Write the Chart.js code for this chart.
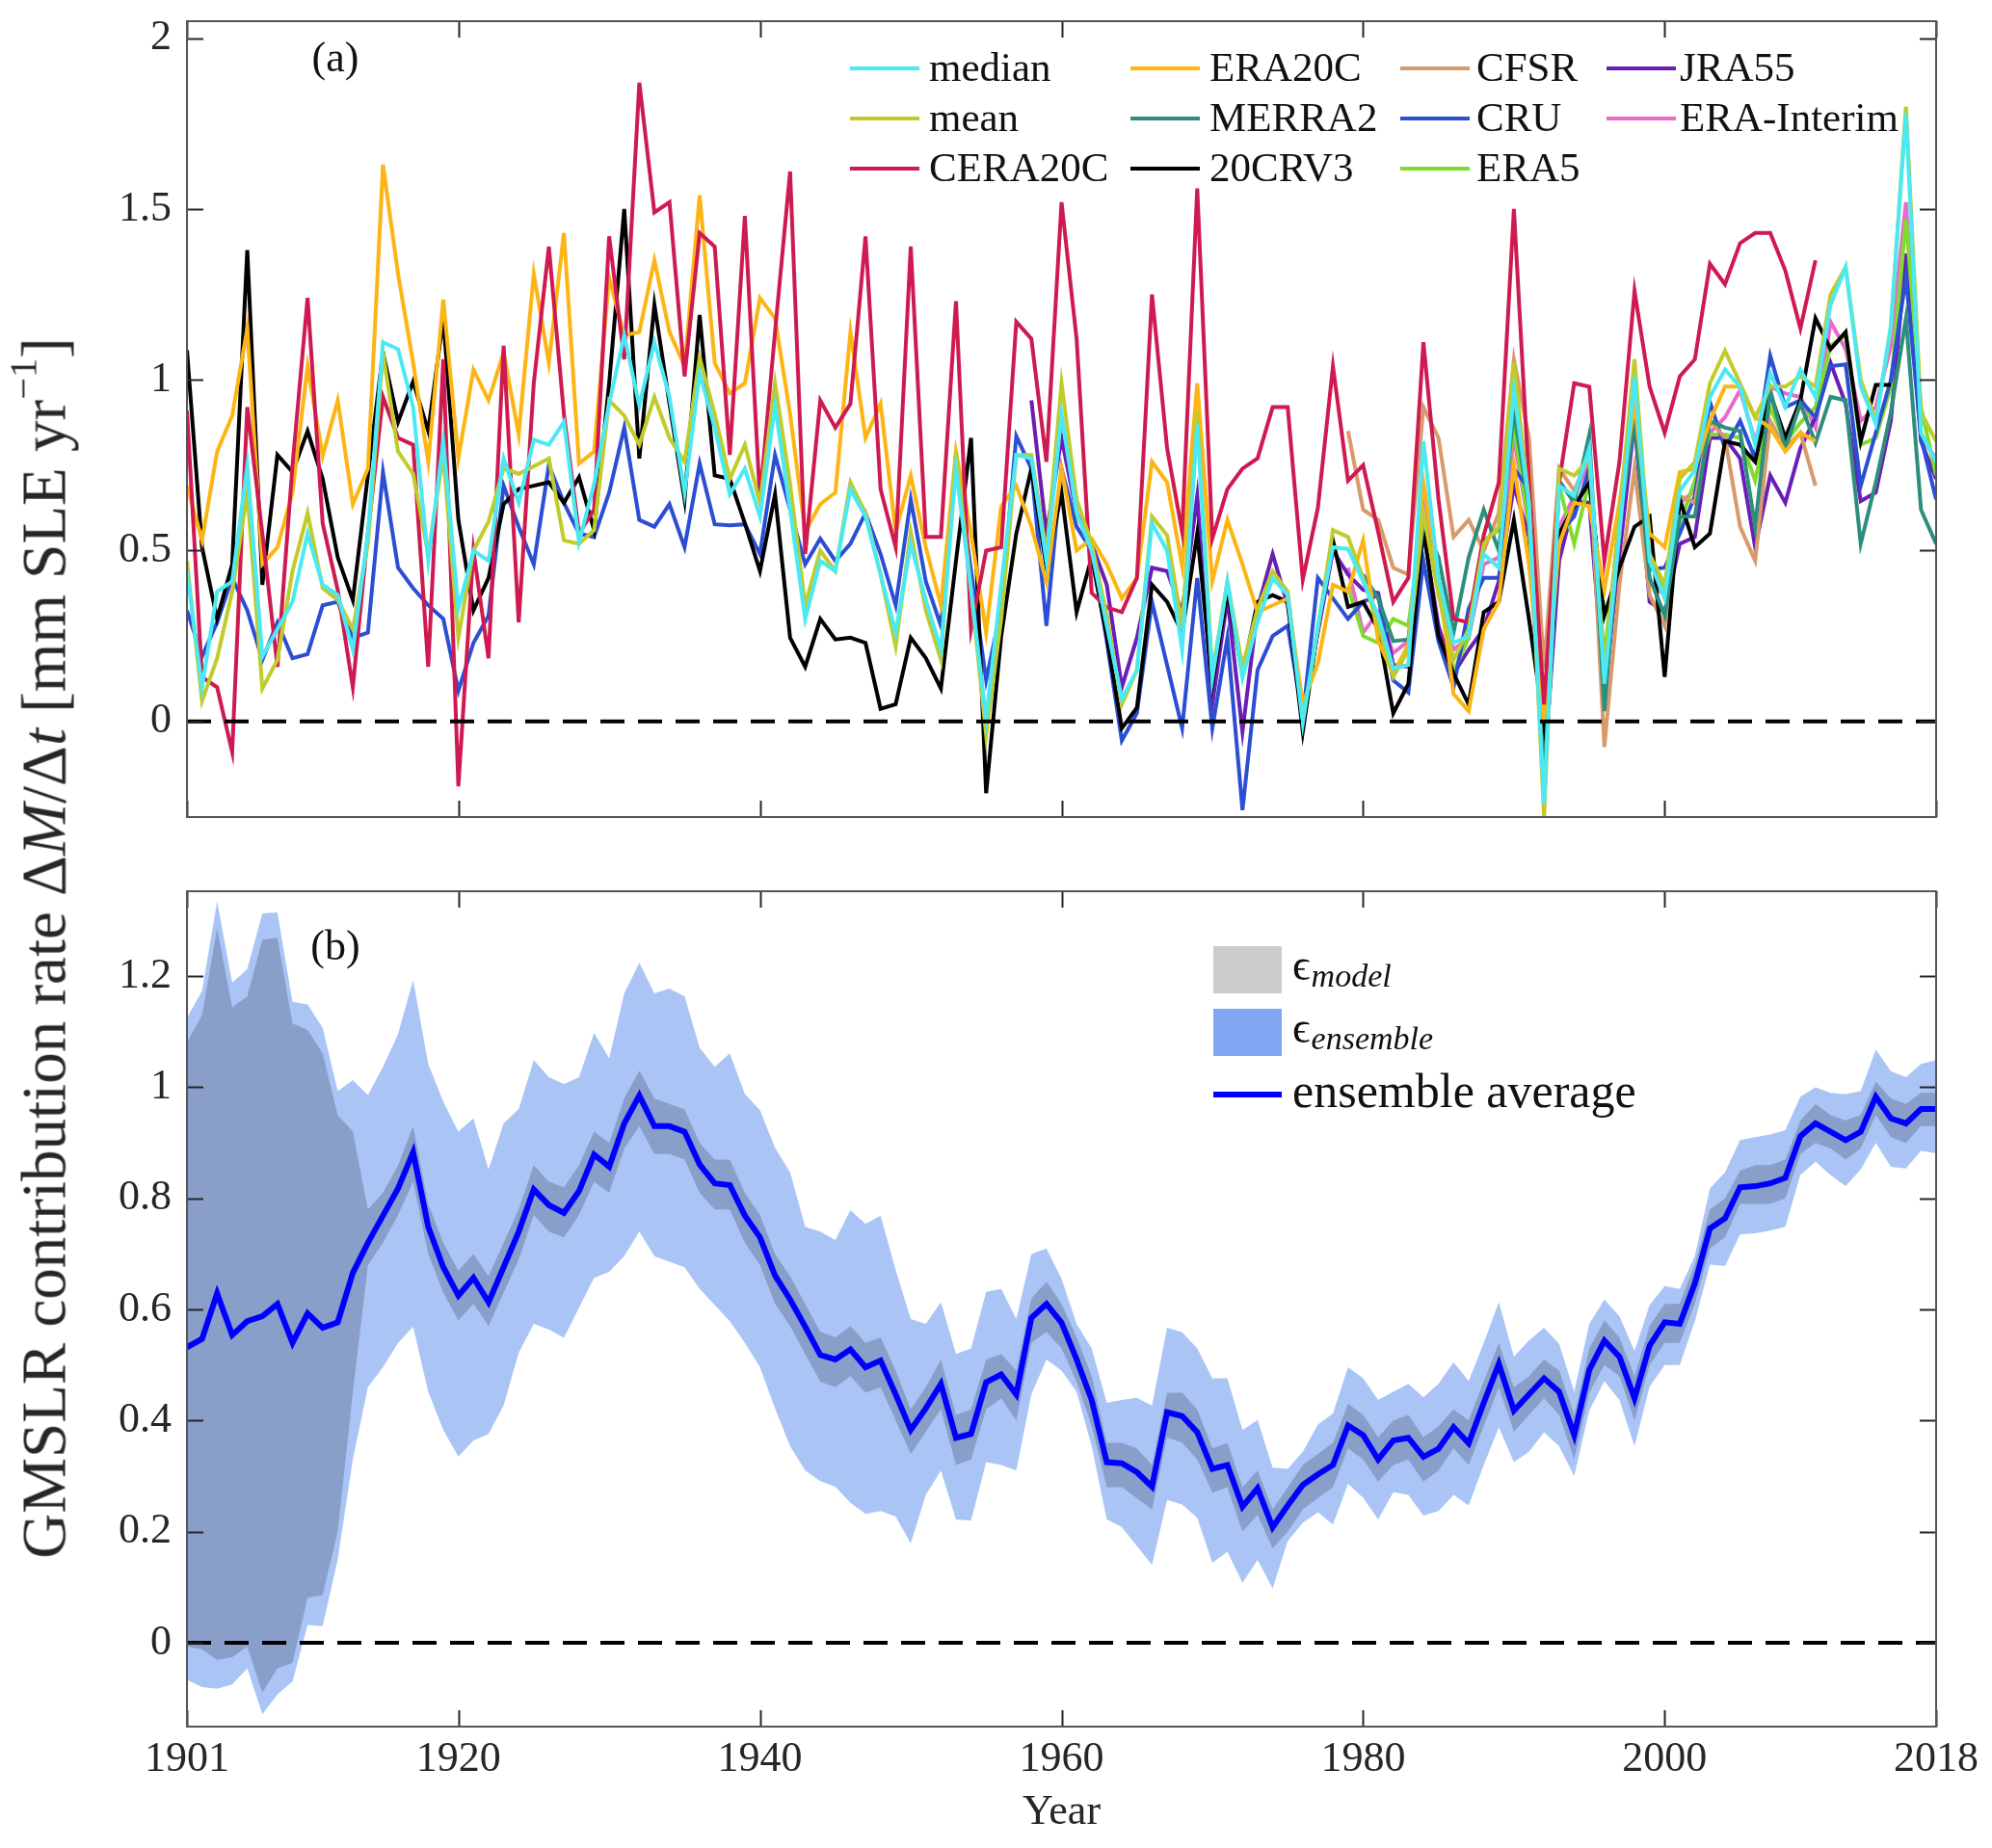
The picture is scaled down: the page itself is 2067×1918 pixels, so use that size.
<!DOCTYPE html>
<html>
<head>
<meta charset="utf-8">
<script src="https://cdn.jsdelivr.net/npm/chart.js@4.4.1/dist/chart.umd.min.js"></script>
<style>
  html, body { margin: 0; padding: 0; background: #fff; }
  body { width: 2067px; height: 1918px; position: relative; overflow: hidden; }
  canvas { position: absolute; left: 0; }
  #chartA { top: 0; }
  #chartB { top: 880px; }
  #ytitle {
    position: absolute; left: 46px; top: 984px;
    transform: translate(-50%, -50%) rotate(-90deg);
    white-space: nowrap; color: #262626;
    font-family: 'Liberation Serif', 'DejaVu Serif', serif; font-size: 65px;
  }
  #ytitle sup { font-size: 0.62em; vertical-align: 0.75em; line-height: 0; }
</style>
</head>
<body>
<canvas id="chartA" width="2067" height="880"></canvas>
<canvas id="chartB" width="2067" height="1038"></canvas>
<div id="ytitle">GMSLR contribution rate &Delta;<i>M</i>/&Delta;<i>t</i> [mm SLE yr<sup>&minus;1</sup>]</div>
<script>
const FONT = "'Liberation Serif', 'DejaVu Serif', serif";

// x axis (first plotted year sits on the left edge, labelled 1901)
const X_MIN = 1902;
const X_MAX = 2018;
const xTickValues = [1902, 1920, 1940, 1960, 1980, 2000, 2018];
const xTickLabels = ['1901', '1920', '1940', '1960', '1980', '2000', '2018'];

const yTicksA = [0, 0.5, 1, 1.5, 2];
const yTickLabelsA = ['0', '0.5', '1', '1.5', '2'];
const yTicksB = [0, 0.2, 0.4, 0.6, 0.8, 1, 1.2];
const yTickLabelsB = ['0', '0.2', '0.4', '0.6', '0.8', '1', '1.2'];

// ---- panel (a): annual rates per product ----
const median = [0.44, 0.10, 0.38, 0.41, 0.75, 0.19, 0.27, 0.35,
  0.55, 0.40, 0.37, 0.21, 0.55, 1.11, 1.09, 0.92, 0.47, 0.82,
  0.33, 0.50, 0.47, 0.77, 0.64, 0.825, 0.81, 0.877, 0.525, 0.695,
  0.93, 1.13, 0.925, 1.11, 0.95, 0.67, 1.02, 0.86, 0.665, 0.74,
  0.60, 0.925, 0.62, 0.30, 0.47, 0.44, 0.68, 0.60, 0.43, 0.26,
  0.52, 0.355, 0.21, 0.74, 0.385, 0.007, 0.40, 0.78, 0.77, 0.47,
  0.90, 0.61, 0.50, 0.28, 0.066, 0.15, 0.58, 0.50, 0.21, 0.87,
  0.127, 0.41, 0.127, 0.29, 0.42, 0.37, -0.005, 0.28, 0.51, 0.505,
  0.41, 0.31, 0.155, 0.165, 0.82, 0.42, 0.23, 0.25, 0.49, 0.45,
  0.97, 0.64, -0.24, 0.69, 0.66, 0.80, 0.11, 0.55, 1.01, 0.47,
  0.36, 0.675, 0.735, 0.95, 1.03, 0.98, 0.81, 1.02, 0.92, 1.03,
  0.95, 1.22, 1.33, 0.98, 0.87, 1.16, 1.78, 0.845, 0.76];

const mean = [0.47, 0.06, 0.185, 0.38, 0.67, 0.096, 0.18, 0.44,
  0.61, 0.39, 0.355, 0.27, 0.52, 1.08, 0.79, 0.725, 0.49, 0.78,
  0.245, 0.50, 0.585, 0.74, 0.725, 0.747, 0.77, 0.53, 0.52, 0.56,
  0.94, 0.895, 0.81, 0.95, 0.83, 0.76, 1.065, 0.90, 0.71, 0.81,
  0.64, 0.99, 0.695, 0.34, 0.50, 0.44, 0.70, 0.61, 0.43, 0.22,
  0.555, 0.325, 0.18, 0.79, 0.385, -0.04, 0.30, 0.78, 0.78, 0.49,
  0.99, 0.65, 0.52, 0.31, 0.05, 0.15, 0.60, 0.545, 0.28, 0.91,
  0.14, 0.41, 0.16, 0.33, 0.44, 0.38, 0.005, 0.27, 0.56, 0.54,
  0.42, 0.28, 0.13, 0.21, 0.61, 0.37, 0.18, 0.27, 0.52, 0.57,
  1.05, 0.64, -0.28, 0.74, 0.72, 0.77, 0.14, 0.61, 1.06, 0.49,
  0.40, 0.71, 0.76, 0.99, 1.085, 0.99, 0.89, 0.98, 0.98, 1.01,
  0.98, 1.25, 1.33, 1.0, 0.88, 1.15, 1.80, 0.905, 0.82];

const cera20c = [0.91, 0.13, 0.10, -0.09, 0.92, 0.55, 0.16, 0.75,
  1.24, 0.58, 0.385, 0.10, 0.55, 0.95, 0.83, 0.81, 0.16, 1.06,
  -0.19, 0.50, 0.185, 1.10, 0.29, 0.99, 1.39, 0.90, 0.55, 0.62,
  1.42, 1.06, 1.87, 1.49, 1.52, 1.01, 1.43, 1.39, 0.78, 1.48,
  0.65, 1.14, 1.61, 0.49, 0.94, 0.86, 0.93, 1.42, 0.68, 0.51,
  1.39, 0.54, 0.54, 1.23, 0.27, 0.50, 0.51, 1.17, 1.12, 0.76,
  1.52, 1.12, 0.376, 0.334, 0.32, 0.42, 1.25, 0.80, 0.555, 1.56,
  0.535, 0.68, 0.74, 0.77, 0.92, 0.92, 0.415, 0.625, 1.04, 0.705,
  0.75, 0.555, 0.35, 0.42, 1.11, 0.65, 0.30, 0.29, 0.545, 0.70,
  1.50, 0.70, 0.05, 0.70, 0.99, 0.98, 0.47, 0.76, 1.26, 0.98,
  0.845, 1.01, 1.06, 1.34, 1.28, 1.40, 1.43, 1.43, 1.32, 1.15,
  1.35];

const era20c = [0.69, 0.53, 0.79, 0.895, 1.15, 0.46, 0.51, 0.67,
  1.04, 0.777, 0.94, 0.636, 0.74, 1.63, 1.31, 1.05, 0.76, 1.235,
  0.77, 1.03, 0.94, 1.08, 0.84, 1.31, 1.05, 1.43, 0.755, 0.79,
  1.30, 1.13, 1.14, 1.35, 1.14, 1.04, 1.54, 1.05, 0.96, 0.99,
  1.24, 1.18, 0.90, 0.555, 0.636, 0.67, 1.14, 0.83, 0.93, 0.555,
  0.72, 0.51, 0.34, 0.79, 0.55, 0.26, 0.63, 0.69, 0.57, 0.41,
  0.74, 0.50, 0.535, 0.46, 0.36, 0.42, 0.76, 0.70, 0.455, 0.99,
  0.41, 0.59, 0.46, 0.32, 0.34, 0.36, 0.05, 0.17, 0.40, 0.38,
  0.53, 0.235, 0.14, 0.225, 0.70, 0.42, 0.08, 0.03, 0.27, 0.35,
  0.75, 0.46, 0.0, 0.52, 0.64, 0.63, 0.385, 0.64, 0.93, 0.55,
  0.51, 0.73, 0.74, 0.88, 0.98, 0.98, 0.89, 0.86, 0.79, 0.845,
  0.82];

const merra2 = [0.43, 0.36, 0.235, 0.24, 0.58, 0.48, 0.26, 0.48, 0.62, 0.50,
  0.905, 0.63, -0.2, 0.705, 0.64, 0.84, 0.03, 0.58, 0.88, 0.42,
  0.31, 0.60, 0.60, 0.88, 0.86, 0.85, 0.57, 0.97, 0.80, 0.93,
  0.815, 0.95, 0.94, 0.52, 0.70, 0.905, 1.18, 0.62, 0.52];

const cr20v3 = [1.087, 0.51, 0.30, 0.46, 1.38, 0.40, 0.78, 0.73,
  0.85, 0.71, 0.48, 0.355, 0.72, 1.08, 0.877, 0.995, 0.85, 1.18,
  0.59, 0.325, 0.42, 0.636, 0.68, 0.69, 0.70, 0.64, 0.715, 0.56,
  0.99, 1.50, 0.77, 1.22, 0.93, 0.65, 1.19, 0.72, 0.71, 0.58,
  0.44, 0.665, 0.245, 0.16, 0.30, 0.24, 0.245, 0.23, 0.037, 0.05,
  0.245, 0.185, 0.096, 0.47, 0.83, -0.21, 0.25, 0.55, 0.74, 0.45,
  0.67, 0.32, 0.48, 0.25, -0.02, 0.04, 0.40, 0.35, 0.26, 0.55,
  0.11, 0.38, 0.14, 0.35, 0.37, 0.35, -0.03, 0.27, 0.53, 0.335,
  0.35, 0.27, 0.024, 0.11, 0.57, 0.25, 0.14, 0.05, 0.32, 0.35,
  0.59, 0.30, -0.015, 0.55, 0.63, 0.70, 0.31, 0.45, 0.57, 0.60,
  0.13, 0.65, 0.51, 0.55, 0.82, 0.81, 0.76, 0.96, 0.83, 0.94,
  1.18, 1.09, 1.14, 0.82, 0.985, 0.985];

const cfsr = [0.85, 0.62, 0.59, 0.45, 0.43, 0.92, 0.83, 0.54, 0.59, 0.50, 0.61,
  1.06, 0.83, 0.155, 0.74, 0.675, 0.78, -0.075, 0.40, 0.74, 0.37,
  0.28, 0.66, 0.64, 0.88, 0.83, 0.57, 0.47, 0.88, 0.80, 0.845,
  0.69];

const cru = [0.325, 0.19, 0.29, 0.42, 0.325, 0.18, 0.29, 0.185,
  0.197, 0.34, 0.35, 0.245, 0.26, 0.73, 0.45, 0.39, 0.34, 0.30,
  0.09, 0.23, 0.31, 0.69, 0.57, 0.46, 0.75, 0.64, 0.55, 0.54,
  0.67, 0.86, 0.59, 0.57, 0.636, 0.51, 0.755, 0.577, 0.574, 0.577,
  0.49, 0.78, 0.62, 0.46, 0.535, 0.47, 0.52, 0.61, 0.49, 0.34,
  0.65, 0.41, 0.28, 0.77, 0.44, 0.12, 0.33, 0.835, 0.74, 0.28,
  0.74, 0.57, 0.50, 0.235, -0.056, 0.024, 0.35, 0.165, -0.02, 0.42,
  -0.02, 0.245, -0.26, 0.15, 0.25, 0.28, 0.01, 0.42, 0.36, 0.30,
  0.35, 0.37, 0.12, 0.085, 0.47, 0.235, 0.10, 0.33, 0.42, 0.42,
  0.74, 0.68, -0.18, 0.55, 0.60, 0.74, 0.12, 0.60, 0.88, 0.445,
  0.45, 0.55, 0.66, 0.935, 0.80, 0.88, 0.77, 1.07, 0.92, 0.94,
  0.89, 1.04, 1.045, 0.69, 0.845, 1.0, 1.30, 0.83, 0.65];

const era5 = [0.395, 0.25, 0.23, 0.30, 0.28, 0.61, 0.38, 0.146, 0.245, 0.53, 0.56,
  0.86, 0.58, -0.16, 0.69, 0.52, 0.705, 0.19, 0.58, 0.97, 0.47,
  0.39, 0.58, 0.705, 0.84, 0.84, 0.83, 0.705, 0.92, 0.815, 0.875,
  0.92, 1.10, 1.13, 0.81, 0.83, 0.98, 1.47, 0.92, 0.72];

const jra55 = [0.94, 0.55,
  0.83, 0.61, 0.52, 0.40, 0.10, 0.245, 0.45, 0.44, 0.32, 0.66,
  0.05, 0.36, -0.03, 0.33, 0.49, 0.34, 0.03, 0.26, 0.50, 0.43,
  0.385, 0.376, 0.165, 0.16, 0.555, 0.28, 0.14, 0.21, 0.27, 0.41,
  0.69, 0.54, -0.15, 0.47, 0.645, 0.64, 0.08, 0.49, 0.88, 0.35,
  0.32, 0.52, 0.54, 0.83, 0.83, 0.77, 0.51, 0.72, 0.64, 0.80,
  0.89, 1.05, 0.93, 0.645, 0.67, 0.88, 1.37, 0.82, 0.71];

const eraInterim = [0.45, 0.26, 0.32, 0.20, 0.235, 0.68, 0.395, 0.21, 0.245, 0.46, 0.48,
  0.83, 0.57, -0.18, 0.57, 0.66, 0.76, 0.12, 0.48, 0.93, 0.41,
  0.37, 0.64, 0.675, 0.845, 0.89, 0.97, 0.82, 0.98, 0.96, 0.95,
  0.86, 1.17, 1.09, 0.88, 0.92, 1.10, 1.52, 0.83, 0.77];

// ---- panel (b): ensemble average and uncertainty envelopes ----
const ensAvg = [0.532, 0.547, 0.629, 0.554, 0.579, 0.588, 0.61, 0.54,
  0.593, 0.567, 0.577, 0.666, 0.72, 0.769, 0.818, 0.883, 0.749, 0.676,
  0.625, 0.657, 0.613, 0.676, 0.74, 0.816, 0.788, 0.774, 0.813, 0.879,
  0.857, 0.935, 0.985, 0.93, 0.93, 0.92, 0.861, 0.827, 0.824, 0.769,
  0.73, 0.661, 0.618, 0.569, 0.518, 0.51, 0.528, 0.496, 0.508, 0.447,
  0.383, 0.422, 0.466, 0.369, 0.376, 0.469, 0.483, 0.447, 0.585, 0.61,
  0.576, 0.51, 0.437, 0.325, 0.323, 0.307, 0.281, 0.415, 0.408, 0.379,
  0.313, 0.32, 0.245, 0.278, 0.208, 0.247, 0.284, 0.303, 0.32, 0.391,
  0.374, 0.33, 0.364, 0.369, 0.335, 0.349, 0.388, 0.359, 0.432, 0.502,
  0.418, 0.447, 0.476, 0.452, 0.374, 0.491, 0.544, 0.515, 0.44, 0.535,
  0.577, 0.574, 0.647, 0.746, 0.764, 0.82, 0.822, 0.827, 0.837, 0.912,
  0.935, 0.92, 0.905, 0.92, 0.983, 0.944, 0.935, 0.961, 0.961];

const ensUpper = [1.125, 1.174, 1.335, 1.188, 1.213, 1.313, 1.315, 1.154,
  1.149, 1.107, 0.993, 1.013, 0.986, 1.037, 1.096, 1.193, 1.042, 0.974,
  0.92, 0.944, 0.852, 0.935, 0.961, 1.049, 1.018, 1.006, 1.018, 1.098,
  1.052, 1.169, 1.224, 1.169, 1.178, 1.164, 1.071, 1.037, 1.061, 0.988,
  0.959, 0.891, 0.847, 0.749, 0.74, 0.725, 0.779, 0.754, 0.769, 0.671,
  0.583, 0.574, 0.613, 0.52, 0.53, 0.632, 0.637, 0.583, 0.70, 0.71,
  0.655, 0.574, 0.53, 0.432, 0.437, 0.441, 0.427, 0.567, 0.559, 0.53,
  0.476, 0.476, 0.383, 0.401, 0.315, 0.313, 0.344, 0.393, 0.413, 0.496,
  0.476, 0.437, 0.452, 0.466, 0.442, 0.466, 0.505, 0.471, 0.54, 0.613,
  0.515, 0.544, 0.567, 0.538, 0.452, 0.574, 0.618, 0.588, 0.525, 0.608,
  0.642, 0.637, 0.696, 0.818, 0.847, 0.905, 0.91, 0.915, 0.923, 0.983,
  1.0, 0.99, 0.988, 0.993, 1.068, 1.029, 1.018, 1.042, 1.049];

const ensLower = [-0.067, -0.08, -0.083, -0.075, -0.046, -0.129, -0.093, -0.07,
  0.032, 0.03, 0.15, 0.33, 0.46, 0.496, 0.54, 0.569, 0.452, 0.383,
  0.335, 0.364, 0.376, 0.427, 0.522, 0.574, 0.564, 0.549, 0.603, 0.657,
  0.668, 0.696, 0.74, 0.696, 0.686, 0.676, 0.637, 0.608, 0.579, 0.54,
  0.496, 0.422, 0.354, 0.31, 0.291, 0.281, 0.252, 0.232, 0.237, 0.227,
  0.179, 0.266, 0.31, 0.222, 0.22, 0.325, 0.32, 0.31, 0.447, 0.51,
  0.49, 0.452, 0.354, 0.222, 0.208, 0.174, 0.14, 0.257, 0.249, 0.225,
  0.144, 0.164, 0.108, 0.149, 0.098, 0.183, 0.216, 0.235, 0.213, 0.286,
  0.261, 0.222, 0.271, 0.266, 0.229, 0.237, 0.266, 0.247, 0.32, 0.388,
  0.325, 0.344, 0.379, 0.354, 0.30, 0.418, 0.471, 0.437, 0.354, 0.461,
  0.50, 0.50, 0.579, 0.681, 0.678, 0.735, 0.737, 0.742, 0.749, 0.842,
  0.866, 0.842, 0.822, 0.852, 0.90, 0.857, 0.854, 0.886, 0.881];

const modelUpper = [1.081, 1.13, 1.286, 1.144, 1.164, 1.266, 1.269, 1.115,
  1.103, 1.061, 0.95, 0.92, 0.78, 0.81, 0.86, 0.93, 0.79, 0.72,
  0.67, 0.70, 0.66, 0.72, 0.78, 0.86, 0.83, 0.82, 0.86, 0.92,
  0.90, 0.98, 1.03, 0.98, 0.97, 0.96, 0.90, 0.87, 0.87, 0.81,
  0.77, 0.70, 0.66, 0.61, 0.56, 0.55, 0.57, 0.54, 0.55, 0.49,
  0.42, 0.46, 0.51, 0.41, 0.42, 0.51, 0.52, 0.49, 0.62, 0.65,
  0.61, 0.55, 0.48, 0.36, 0.36, 0.35, 0.32, 0.45, 0.45, 0.42,
  0.35, 0.36, 0.28, 0.31, 0.24, 0.28, 0.32, 0.34, 0.36, 0.43,
  0.41, 0.37, 0.40, 0.41, 0.37, 0.39, 0.42, 0.40, 0.47, 0.54,
  0.46, 0.48, 0.51, 0.49, 0.41, 0.53, 0.58, 0.55, 0.48, 0.57,
  0.61, 0.61, 0.68, 0.78, 0.80, 0.85, 0.86, 0.86, 0.87, 0.94,
  0.97, 0.95, 0.94, 0.95, 1.01, 0.98, 0.97, 0.99, 0.99];

const modelLower = [-0.007, -0.012, -0.031, -0.026, -0.007, -0.09, -0.046, -0.036,
  0.081, 0.086, 0.20, 0.45, 0.68, 0.72, 0.77, 0.83, 0.70, 0.63,
  0.58, 0.61, 0.57, 0.63, 0.69, 0.77, 0.74, 0.73, 0.77, 0.83,
  0.81, 0.89, 0.93, 0.88, 0.88, 0.87, 0.81, 0.78, 0.78, 0.72,
  0.68, 0.61, 0.57, 0.52, 0.47, 0.46, 0.48, 0.45, 0.46, 0.40,
  0.34, 0.38, 0.42, 0.32, 0.33, 0.42, 0.44, 0.40, 0.54, 0.56,
  0.53, 0.47, 0.39, 0.28, 0.28, 0.26, 0.24, 0.37, 0.36, 0.33,
  0.27, 0.28, 0.20, 0.23, 0.17, 0.20, 0.24, 0.26, 0.28, 0.35,
  0.33, 0.29, 0.32, 0.33, 0.29, 0.31, 0.35, 0.32, 0.39, 0.46,
  0.38, 0.41, 0.44, 0.41, 0.33, 0.45, 0.50, 0.48, 0.40, 0.50,
  0.54, 0.54, 0.61, 0.71, 0.73, 0.79, 0.79, 0.79, 0.80, 0.88,
  0.90, 0.89, 0.87, 0.89, 0.95, 0.91, 0.90, 0.93, 0.93];

// product list for panel (a): label, first year, values, colour
const products = [
  { label: 'median',      start: 1902, values: median,     color: '#4BE9F3' },
  { label: 'mean',        start: 1902, values: mean,       color: '#C0CB2C' },
  { label: 'CERA20C',     start: 1902, values: cera20c,    color: '#CE1A50' },
  { label: 'ERA20C',      start: 1902, values: era20c,     color: '#FDB515' },
  { label: 'MERRA2',      start: 1980, values: merra2,     color: '#2D8E7D' },
  { label: '20CRV3',      start: 1902, values: cr20v3,     color: '#000000' },
  { label: 'CFSR',        start: 1979, values: cfsr,       color: '#D89A6B' },
  { label: 'CRU',         start: 1902, values: cru,        color: '#2B4ED3' },
  { label: 'ERA5',        start: 1979, values: era5,       color: '#7FDC2C' },
  { label: 'JRA55',       start: 1958, values: jra55,      color: '#6B1DB5' },
  { label: 'ERA-Interim', start: 1979, values: eraInterim, color: '#E86AC9' }
];

// legend grid of panel (a), filled column by column
const legendColsLine = [882, 1173, 1453, 1667];
const legendColsText = [964, 1255, 1532, 1743];
const legendRows = [71, 123, 175];
const legendOrder = ['median', 'mean', 'CERA20C', 'ERA20C', 'MERRA2', '20CRV3', 'CFSR', 'CRU', 'ERA5', 'JRA55', 'ERA-Interim'];

const TICK_LEN = 17;

function toPoints(start, values) {
    return values.map((v, i) => ({ x: start + i, y: v }));
}

// frame with inward ticks on all four sides (MATLAB box style)
const framePlugin = {
    id: 'frame',
    afterDatasetsDraw(chart) {
        const { ctx, chartArea: a, scales } = chart;
        ctx.save();
        ctx.strokeStyle = '#262626';
        ctx.lineWidth = 2;
        ctx.beginPath();
        scales.x.ticks.forEach(t => {
            const px = Math.round(scales.x.getPixelForValue(t.value)) + 0.5;
            ctx.moveTo(px, a.bottom); ctx.lineTo(px, a.bottom - TICK_LEN);
            ctx.moveTo(px, a.top); ctx.lineTo(px, a.top + TICK_LEN);
        });
        scales.y.ticks.forEach(t => {
            const py = Math.round(scales.y.getPixelForValue(t.value)) + 0.5;
            ctx.moveTo(a.left, py); ctx.lineTo(a.left + TICK_LEN, py);
            ctx.moveTo(a.right, py); ctx.lineTo(a.right - TICK_LEN, py);
        });
        ctx.stroke();
        ctx.strokeStyle = '#555';
        ctx.strokeRect(a.left, a.top, a.right - a.left, a.bottom - a.top);
        ctx.restore();
    }
};

// panel letter and legends
const annotatePlugin = {
    id: 'annotate',
    afterDraw(chart) {
        const opts = chart.options.plugins.annotate;
        const ctx = chart.ctx;
        ctx.save();
        ctx.fillStyle = '#111';
        ctx.textBaseline = 'middle';
        ctx.font = '44px ' + FONT;
        ctx.textAlign = 'center';
        ctx.fillText(opts.letter, opts.letterX, opts.letterY);
        ctx.textAlign = 'left';
        if (opts.kind === 'a') {
            chart.data.datasets.forEach(ds => {
                if (ds.legendIndex === undefined) return;
                const col = Math.floor(ds.legendIndex / 3);
                const row = ds.legendIndex % 3;
                const y = legendRows[row];
                ctx.strokeStyle = ds.borderColor;
                ctx.lineWidth = 4;
                ctx.beginPath();
                ctx.moveTo(legendColsLine[col], y);
                ctx.lineTo(legendColsLine[col] + 72, y);
                ctx.stroke();
                ctx.font = '43px ' + FONT;
                ctx.fillStyle = '#111';
                ctx.fillText(ds.label, legendColsText[col], y + 2);
            });
        } else {
            const x0 = 1259, w = 71, tx = 1341;
            ctx.fillStyle = '#CCCCCC';
            ctx.fillRect(x0, 102, w, 49);
            ctx.fillStyle = '#7FA6F2';
            ctx.fillRect(x0, 167, w, 49);
            ctx.strokeStyle = '#0000FF';
            ctx.lineWidth = 6;
            ctx.beginPath();
            ctx.moveTo(x0, 256);
            ctx.lineTo(x0 + w, 256);
            ctx.stroke();
            ctx.fillStyle = '#111';
            const sub = (main, subText, y) => {
                ctx.font = '46px ' + FONT;
                ctx.fillText(main, tx, y);
                const mw = ctx.measureText(main).width;
                ctx.font = 'italic 34px ' + FONT;
                ctx.fillText(subText, tx + mw + 1, y + 10);
            };
            sub('\u03F5', 'model', 125);
            sub('\u03F5', 'ensemble', 190);
            ctx.font = '50px ' + FONT;
            ctx.fillText('ensemble average', tx, 256);
        }
        ctx.restore();
    }
};

function xScale(showLabels, boxHeight) {
    return {
        type: 'linear',
        min: X_MIN,
        max: X_MAX,
        afterBuildTicks: scale => { scale.ticks = xTickValues.map(v => ({ value: v })); },
        afterFit: scale => {
            scale.height = boxHeight;
            scale.paddingLeft = 0;
            scale.paddingRight = 0;
        },
        grid: { display: false, drawTicks: false },
        border: { display: false },
        ticks: {
            display: showLabels,
            autoSkip: false,
            maxRotation: 0,
            padding: 12,
            color: '#262626',
            font: { size: 44, family: FONT, lineHeight: 1 },
            callback: value => xTickLabels[xTickValues.indexOf(value)]
        },
        title: {
            display: showLabels,
            text: 'Year',
            color: '#262626',
            font: { size: 44, family: FONT, lineHeight: 1.2 },
            padding: { top: 0, bottom: 10 }
        }
    };
}

function yScale(min, max, tickValues, tickLabels) {
    return {
        type: 'linear',
        min: min,
        max: max,
        afterBuildTicks: scale => { scale.ticks = tickValues.map(v => ({ value: v })); },
        afterFit: scale => {
            scale.width = 194;
            // keep the plot box where the layout padding puts it
            scale.paddingTop = 0;
            scale.paddingBottom = 0;
        },
        grid: { display: false, drawTicks: false },
        border: { display: false },
        ticks: {
            padding: 16,
            color: '#262626',
            font: { size: 44, family: FONT, lineHeight: 1 },
            callback: value => tickLabels[tickValues.indexOf(value)]
        }
    };
}

const zeroLine = {
    label: 'zero',
    data: [{ x: X_MIN, y: 0 }, { x: X_MAX, y: 0 }],
    borderColor: '#000',
    borderWidth: 4,
    borderDash: [25, 14],
    pointRadius: 0,
    fill: false
};

function buildChartA() {
    const ctx = document.getElementById('chartA').getContext('2d');
    const datasets = [zeroLine].concat(products.map(p => ({
        label: p.label,
        legendIndex: legendOrder.indexOf(p.label),
        data: toPoints(p.start, p.values),
        borderColor: p.color,
        borderWidth: 4,
        pointRadius: 0,
        tension: 0,
        fill: false
    })));
    return new Chart(ctx, {
        type: 'line',
        data: { datasets: datasets },
        options: {
            responsive: false,
            animation: false,
            devicePixelRatio: 1,
            layout: { padding: { top: 22, right: 58, left: 0, bottom: 0 } },
            scales: {
                x: xScale(false, 32),
                y: yScale(-0.28, 2.05, yTicksA, yTickLabelsA)
            },
            plugins: {
                legend: { display: false },
                tooltip: { enabled: false },
                annotate: { kind: 'a', letter: '(a)', letterX: 348, letterY: 62 }
            }
        },
        plugins: [framePlugin, annotatePlugin]
    });
}

function buildChartB() {
    const ctx = document.getElementById('chartB').getContext('2d');
    const band = (label, values, fill, color) => ({
        label: label,
        data: toPoints(X_MIN, values),
        borderWidth: 0,
        borderColor: 'rgba(0,0,0,0)',
        backgroundColor: color,
        pointRadius: 0,
        tension: 0,
        fill: fill
    });
    return new Chart(ctx, {
        type: 'line',
        data: {
            datasets: [
                {
                    label: 'ensemble average',
                    data: toPoints(X_MIN, ensAvg),
                    borderColor: '#0000FF',
                    borderWidth: 6,
                    pointRadius: 0,
                    tension: 0,
                    fill: false
                },
                zeroLine,
                band('model upper', modelUpper, '+1', 'rgba(40,45,70,0.25)'),
                band('model lower', modelLower, false, 'rgba(0,0,0,0)'),
                band('ensemble upper', ensUpper, '+1', 'rgba(100,149,237,0.55)'),
                band('ensemble lower', ensLower, false, 'rgba(0,0,0,0)')
            ]
        },
        options: {
            responsive: false,
            animation: false,
            devicePixelRatio: 1,
            layout: { padding: { top: 45, right: 58, left: 0, bottom: 0 } },
            scales: {
                x: xScale(true, 126),
                y: yScale(-0.151, 1.353, yTicksB, yTickLabelsB)
            },
            plugins: {
                legend: { display: false },
                tooltip: { enabled: false },
                annotate: { kind: 'b', letter: '(b)', letterX: 348, letterY: 104 }
            }
        },
        plugins: [framePlugin, annotatePlugin]
    });
}

Chart.defaults.font.family = FONT;
buildChartA();
buildChartB();
</script>
</body>
</html>
